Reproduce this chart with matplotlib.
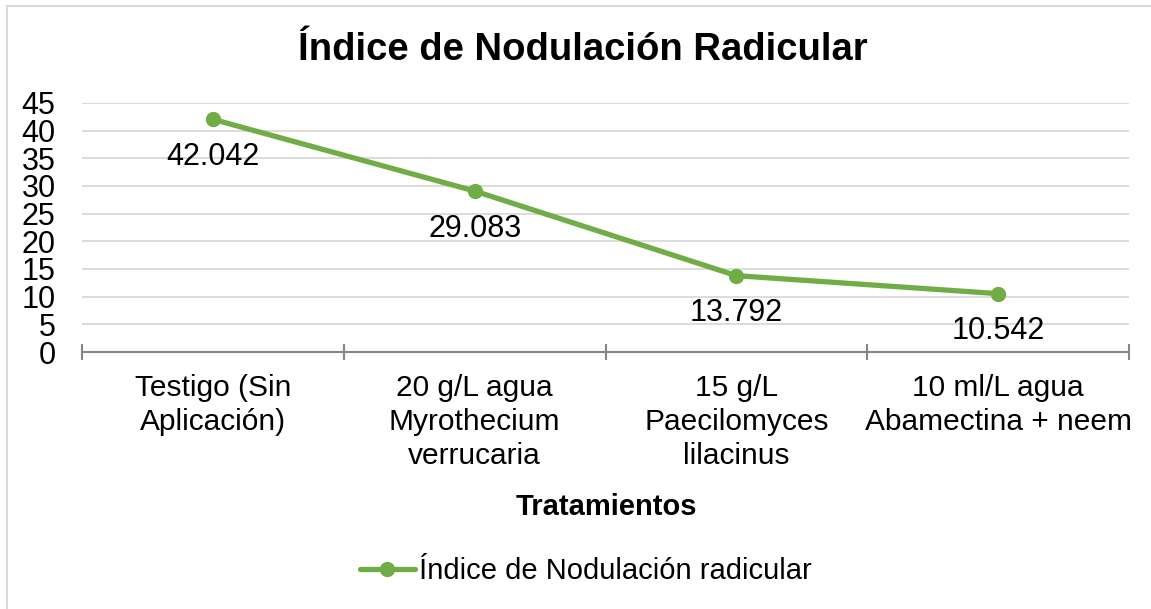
import matplotlib
matplotlib.use("Agg")
import matplotlib.pyplot as plt
from matplotlib.lines import Line2D

plt.rcParams["font.family"] = ["Liberation Sans", "DejaVu Sans"]

categories = ["Testigo (Sin\nAplicación)", "20 g/L agua\nMyrothecium\nverrucaria",
              "15 g/L\nPaecilomyces\nlilacinus", "10 ml/L agua\nAbamectina + neem"]
values = [42.042, 29.083, 13.792, 10.542]
value_labels = ["42.042", "29.083", "13.792", "10.542"]
y_ticks = [0, 5, 10, 15, 20, 25, 30, 35, 40, 45]

GREEN = "#70ad47"

fig = plt.figure(figsize=(11.51, 6.09), dpi=100)
ax = fig.add_axes([0.0712, 0.422, 0.9098, 0.409])

x = list(range(len(values)))
ax.plot(x, values, color=GREEN, linewidth=3.8, marker="o", markersize=10,
        solid_capstyle="round", label="Índice de Nodulación radicular", zorder=3)

for xi, v, lab in zip(x, values, value_labels):
    ax.annotate(lab, (xi, v), xytext=(0, -27), textcoords="offset points",
                ha="center", va="center", fontsize=22, color="black")

ax.set_xlim(-0.5, len(values) - 0.5)
ax.set_ylim(0, 45)
ax.set_yticks(y_ticks)
ax.tick_params(axis="y", length=0, labelsize=22, pad=19)
ax.grid(axis="y", color="#d9d9d9", linewidth=1.3)
ax.set_axisbelow(True)

# category boundaries as ticks, labels at centers
ax.set_xticks([i - 0.5 for i in range(len(values) + 1)])
ax.set_xticklabels([])
ax.tick_params(axis="x", length=11, width=1.5, color="#868686", direction="inout")
for xi, c in zip(x, categories):
    ax.text(xi, -0.088, c, transform=ax.get_xaxis_transform(), ha="center", va="top",
            fontsize=21.5, linespacing=1.27)

for s in ["top", "right", "left"]:
    ax.spines[s].set_visible(False)
ax.spines["bottom"].set_color("#868686")
ax.spines["bottom"].set_linewidth(1.5)

fig.text(0.5065, 0.918, "Índice de Nodulación Radicular", ha="center", va="center",
         fontsize=27.5, fontweight="bold")
fig.text(0.5265, 0.167, "Tratamientos", ha="center", va="center",
         fontsize=21, fontweight="bold")

leg = fig.legend(loc="center", bbox_to_anchor=(0.509, 0.062), frameon=False,
                 fontsize=21, handlelength=1.9, handletextpad=0.15)

# chart frame: only top and left edges show in the crop
bx, by = 7 / 1151, 1 - 6 / 609
fig.lines.append(Line2D([bx, 1], [by, by], transform=fig.transFigure,
                        color="#d9d9d9", linewidth=1.5))
fig.lines.append(Line2D([bx, bx], [0, by], transform=fig.transFigure,
                        color="#d9d9d9", linewidth=1.5))

fig.savefig("out.png", dpi=100)
